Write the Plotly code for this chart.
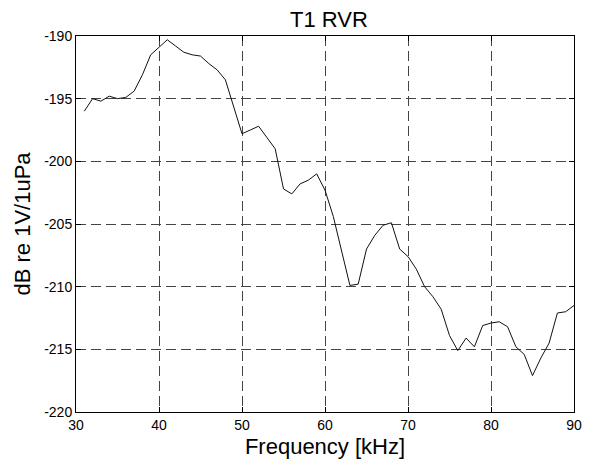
import plotly.graph_objects as go

freq_khz = list(range(31, 91))
rvr_db = [
    -196.0, -195.0, -195.2, -194.8, -195.0, -194.9, -194.4, -193.1, -191.5, -190.9,
    -190.3, -190.8, -191.3, -191.5, -191.6, -192.2, -192.7, -193.5, -195.7, -197.8,
    -197.5, -197.2, -198.1, -199.0, -202.2, -202.6, -201.8, -201.5, -201.0, -202.3,
    -204.4, -207.1, -209.9, -209.8, -207.0, -205.9, -205.1, -204.9, -207.0, -207.6,
    -208.6, -210.0, -210.8, -211.8, -213.9, -215.1, -214.1, -214.8, -213.1, -212.9,
    -212.8, -213.2, -214.8, -215.4, -217.1, -215.7, -214.5, -212.1, -212.0, -211.5,
]
x_ticks = [30, 40, 50, 60, 70, 80, 90]
y_ticks = [-190, -195, -200, -205, -210, -215, -220]

W, H = 582, 454  # page body has an 8px margin

fig = go.Figure()
fig.add_trace(go.Scatter(x=freq_khz, y=rvr_db, mode="lines",
                         line=dict(color="#111111", width=1), showlegend=False))

font = "Liberation Sans, Arial, sans-serif"
axis_common = dict(
    showline=True, linecolor="black", linewidth=1, mirror="ticks",
    ticks="inside", ticklen=5, tickcolor="black",
    showgrid=True, gridcolor="#444444", griddash="10px,5px", gridwidth=1,
    zeroline=False, automargin=False,
    tickfont=dict(family=font, size=14, color="black"),
)
fig.update_layout(
    width=W, height=H,
    margin=dict(l=68, r=16, t=28, b=50),
    paper_bgcolor="white", plot_bgcolor="white",
    title=dict(text="T1 RVR", x=0.5515, xanchor="center", xref="container",
               y=1 - 11 / H, yanchor="middle", yref="container",
               font=dict(family=font, size=22, color="black")),
    xaxis=dict(range=[30, 90], tickvals=x_ticks, ticktext=[str(v) for v in x_ticks],
               title=dict(text="Frequency [kHz]", font=dict(family=font, size=22, color="black"), standoff=6),
               **axis_common),
    yaxis=dict(range=[-220, -190], tickvals=y_ticks, ticktext=[str(v) for v in y_ticks],
               title=dict(text="dB re 1V/1uPa", font=dict(family=font, size=22, color="black"), standoff=7),
               **axis_common),
)
fig.write_html("out.html")
